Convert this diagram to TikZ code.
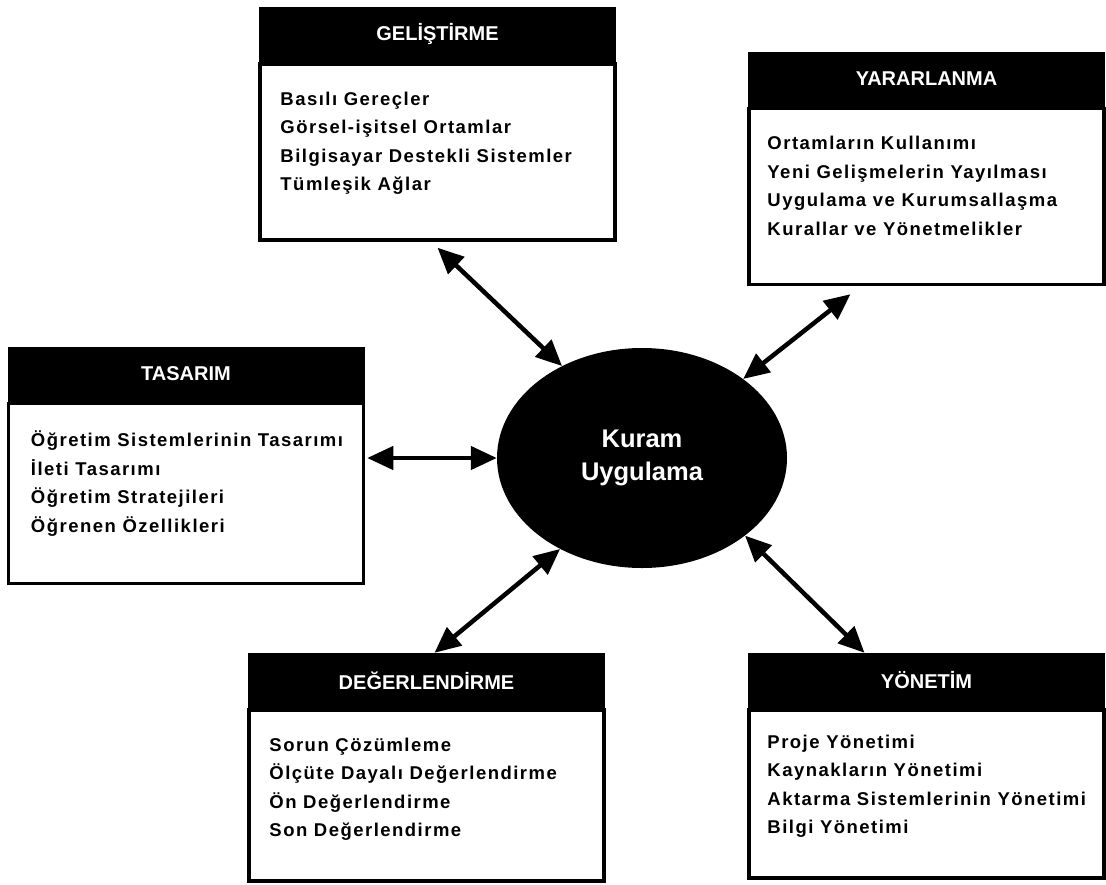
\documentclass[tikz,border=0pt]{standalone}
\usepackage{fontspec}
\setmainfont{Liberation Sans}
\newfontfamily\itemfont[LetterSpace=8]{Liberation Sans}
\usetikzlibrary{positioning,arrows.meta,calc,shapes.geometric}

\begin{document}
\begin{tikzpicture}[x=1pt, y=-1pt,
  head/.style={fill=black, text=white, minimum width=357pt, minimum height=55pt, inner sep=0pt,
               font=\fontsize{20}{24}\selectfont\bfseries},
  body/.style={draw, line width=3.5pt, minimum width=355pt, minimum height=176pt, inner sep=0pt},
  items/.style={align=left, inner sep=0pt, font=\itemfont\fontsize{18.5}{28.5}\selectfont\bfseries},
  core/.style={ellipse, fill=black, text=white, minimum width=290pt, minimum height=220pt,
               inner sep=0pt, align=center, font=\fontsize{25.5}{33}\selectfont\bfseries},
  link/.style={{Triangle[length=26pt,width=23pt]}-{Triangle[length=26pt,width=23pt]}, line width=4.5pt},
  node distance=0pt]
\useasboundingbox (0,0) rectangle (1106,884);

% centre
\node[core] (ku) at (642,458) {Kuram\\Uygulama};

% gelistirme
\node[head] (gh) at (437.5,34.5) {GELİŞTİRME};
\node[body, below=of gh] (gb) {};
\node[items, below right=27pt and 22pt of gb.north west] (gl)
  {\vphantom{Ö}Basılı Gereçler\\Görsel-işitsel Ortamlar\\Bilgisayar Destekli Sistemler\\Tümleşik Ağlar};

% yararlanma
\node[head] (yh) at (926.5,79) {YARARLANMA};
\node[body, below=of yh] (yb) {};
\node[items, below right=27pt and 20pt of yb.north west] (yl)
  {\vphantom{Ö}Ortamların Kullanımı\\Yeni Gelişmelerin Yayılması\\Uygulama ve Kurumsallaşma\\Kurallar ve Yönetmelikler};

% tasarim
\node[head] (th) at (186,374) {TASARIM};
\node[body, below=of th, minimum height=180pt] (tb) {};
\node[items, below right=29pt and 24pt of tb.north west] (tl)
  {\vphantom{Ö}Öğretim Sistemlerinin Tasarımı\\İleti Tasarımı\\Öğretim Stratejileri\\Öğrenen Özellikleri};

% degerlendirme
\node[head] (dh) at (426.5,680.5) {DEĞERLENDİRME};
\node[body, below=of dh, minimum height=171pt] (db) {};
\node[items, below right=27pt and 22pt of db.north west] (dl)
  {\vphantom{Ö}Sorun Çözümleme\\Ölçüte Dayalı Değerlendirme\\Ön Değerlendirme\\Son Değerlendirme};

% yonetim
\node[head] (vh) at (926.5,680.5) {YÖNETİM};
\node[body, below=of vh, minimum height=168pt] (vb) {};
\node[items, below right=24pt and 20pt of vb.north west] (vl)
  {\vphantom{Ö}Proje Yönetimi\\Kaynakların Yönetimi\\Aktarma Sistemlerinin Yönetimi\\Bilgi Yönetimi};

% connectors
\coordinate (ge) at ([yshift=-6pt]gb.south);
\coordinate (ye) at ([xshift=-76pt,yshift=-8pt]yb.south);
\coordinate (te) at ([xshift=2pt]tb.east |- ku.west);
\coordinate (de) at ([xshift=8pt]dh.north);
\coordinate (ve) at ([xshift=-62pt]vh.north);
\foreach \a/\b in {ge/ku.131, ye/ku.38, te/ku.west, de/ku.228, ve/ku.323}{
  \draw[link] (\a) -- (\b);
}
\end{tikzpicture}
\end{document}
